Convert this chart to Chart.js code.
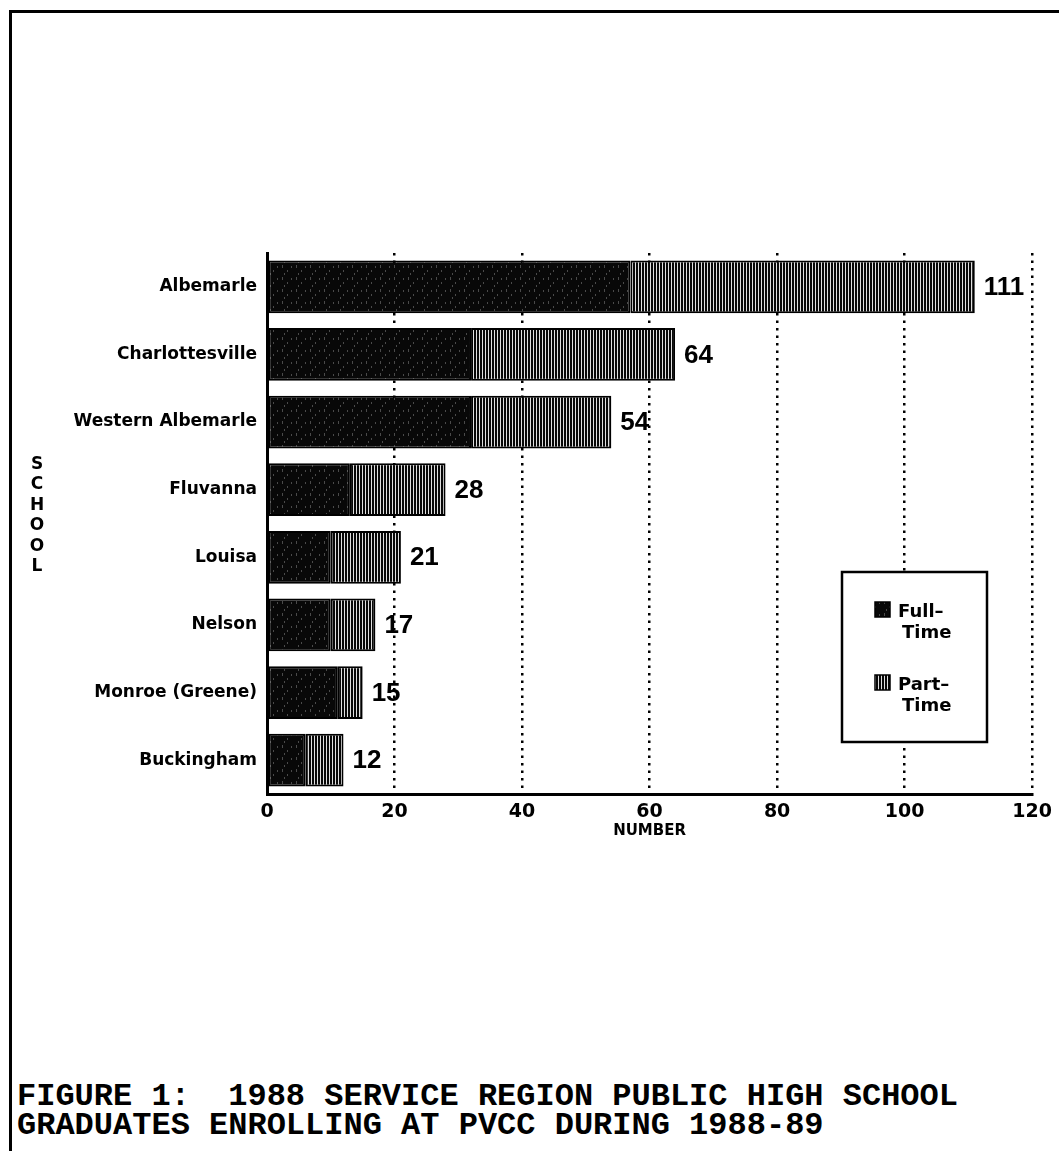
<!DOCTYPE html>
<html><head><meta charset="utf-8">
<script src="https://cdn.jsdelivr.net/npm/chart.js@4.4.0/dist/chart.umd.min.js"></script>
<style>
html,body{margin:0;padding:0;background:#fff;}
body{width:1059px;height:1151px;position:relative;overflow:hidden;}
#frame{position:absolute;left:9px;top:10px;right:0;bottom:0;border-left:3px solid #000;border-top:3px solid #000;}
#wrap{position:absolute;left:0;top:0;width:1059px;height:1000px;}
#caption{position:absolute;left:17px;top:1082px;font:bold 32px "Liberation Mono","Courier New",monospace;line-height:29px;color:#000;white-space:pre;}
</style></head>
<body>
<div id="frame"></div>
<div id="wrap"><canvas id="c" width="1059" height="1000"></canvas></div>
<div id="caption">FIGURE 1:  1988 SERVICE REGION PUBLIC HIGH SCHOOL
GRADUATES ENROLLING AT PVCC DURING 1988-89</div>
<script>
// ---- data ----
const schools = ['Albemarle','Charlottesville','Western Albemarle','Fluvanna','Louisa','Nelson','Monroe (Greene)','Buckingham'];
const fullTime = [57,32,32,13,10,10,11,6];
const partTime = [54,32,22,15,11,7,4,6];
const xTicks = [0,20,40,60,80,100,120];
const seriesNames = ['Full-Time','Part-Time'];
const legendLines = [['Full\u2013','Time'],['Part\u2013','Time']];
const axisTitleX = 'NUMBER';
const axisTitleY = 'SCHOOL';

const canvas = document.getElementById('c');
const ctx = canvas.getContext('2d');

function solidPattern(){
  const c=document.createElement('canvas'); c.width=14; c.height=12;
  const g=c.getContext('2d');
  g.fillStyle='#080808'; g.fillRect(0,0,14,12);
  g.fillStyle='#4a4a4a';
  g.fillRect(2,1,1,3); g.fillRect(7,6,1,2); g.fillRect(11,2,1,2); g.fillRect(4,9,1,2);
  return ctx.createPattern(c,'repeat');
}
function stripePattern(){
  const c=document.createElement('canvas'); c.width=3; c.height=6;
  const g=c.getContext('2d');
  g.fillStyle='#080808'; g.fillRect(0,0,3,6);
  g.fillStyle='#e0e0e0'; g.fillRect(2,0,1,6);
  return ctx.createPattern(c,'repeat');
}
const patFull = solidPattern();
const patPart = stripePattern();
const pats = [patFull, patPart];

const SANS = '"Liberation Sans", Arial, sans-serif';
const WIDE = '"DejaVu Sans", Verdana, sans-serif';

const totalsPlugin = {
  id:'totals',
  afterDatasetsDraw(chart){
    const c = chart.ctx;
    const meta = chart.getDatasetMeta(1);
    c.save();
    c.fillStyle='#000';
    c.font='bold 26px '+SANS;
    c.textAlign='left'; c.textBaseline='middle';
    meta.data.forEach((bar,i)=>{
      c.fillText(String(fullTime[i]+partTime[i]), bar.x+9, bar.y+1);
    });
    c.restore();
  }
};

const extrasPlugin = {
  id:'extras',
  afterDraw(chart){
    const c = chart.ctx;
    c.save();
    // legend box
    const bx=842, by=572, bw=145, bh=170;
    c.fillStyle='#fff'; c.fillRect(bx,by,bw,bh);
    c.strokeStyle='#000'; c.lineWidth=2.5; c.strokeRect(bx,by,bw,bh);
    const rows=[602,675];
    c.font='bold 18px '+WIDE; c.textAlign='left'; c.textBaseline='alphabetic';
    rows.forEach((ry,k)=>{
      c.fillStyle=pats[k]; c.fillRect(875,ry,15,15);
      c.strokeStyle='#000'; c.lineWidth=1.5; c.strokeRect(875,ry,15,15);
      c.fillStyle='#000';
      c.fillText(legendLines[k][0], 898, ry+15);
      c.fillText(legendLines[k][1], 902, ry+36);
    });
    // vertical stacked axis title
    c.font='bold 17px '+WIDE; c.textAlign='center'; c.textBaseline='top';
    const letters = axisTitleY.split('');
    letters.forEach((ch,i)=>{ c.fillText(ch, 37, 456+i*20.5); });
    c.restore();
  }
};

new Chart(ctx,{
  type:'bar',
  data:{
    labels:schools,
    datasets:[
      {label:seriesNames[0], data:fullTime, backgroundColor:patFull, borderColor:'#000', borderWidth:2, borderSkipped:false, barPercentage:0.78, categoryPercentage:1},
      {label:seriesNames[1], data:partTime, backgroundColor:patPart, borderColor:'#000', borderWidth:2, borderSkipped:false, barPercentage:0.78, categoryPercentage:1}
    ]
  },
  options:{
    indexAxis:'y',
    responsive:false,
    animation:false,
    devicePixelRatio:1,
    layout:{padding:{left:0, top:253, right:26, bottom:160}},
    plugins:{legend:{display:false}, tooltip:{enabled:false}},
    scales:{
      x:{
        stacked:true, min:0, max:120,
        afterBuildTicks:(s)=>{ s.ticks = xTicks.map(v=>({value:v})); },
        grid:{color:(c)=> (c.tick && c.tick.value===0) ? 'rgba(0,0,0,0)' : '#000', lineWidth:2.5, drawTicks:false},
        border:{display:true, color:'#000', width:3, dash:[2.5,5]},
        ticks:{color:'#000', font:{family:WIDE, size:19, weight:'bold'}, padding:7, maxRotation:0, autoSkip:false},
        title:{display:true, text:axisTitleX, color:'#000', font:{family:WIDE, size:15, weight:'bold'}, padding:{top:0,bottom:0}},
        afterFit:(s)=>{ s.height=46; }
      },
      y:{
        stacked:true,
        grid:{display:false, drawTicks:false},
        border:{display:true, color:'#000', width:3},
        ticks:{color:'#000', font:{family:WIDE, size:17, weight:'bold'}, padding:10, autoSkip:false},
        afterFit:(s)=>{ s.width=267; }
      }
    }
  },
  plugins:[totalsPlugin, extrasPlugin]
});
</script>
</body></html>
